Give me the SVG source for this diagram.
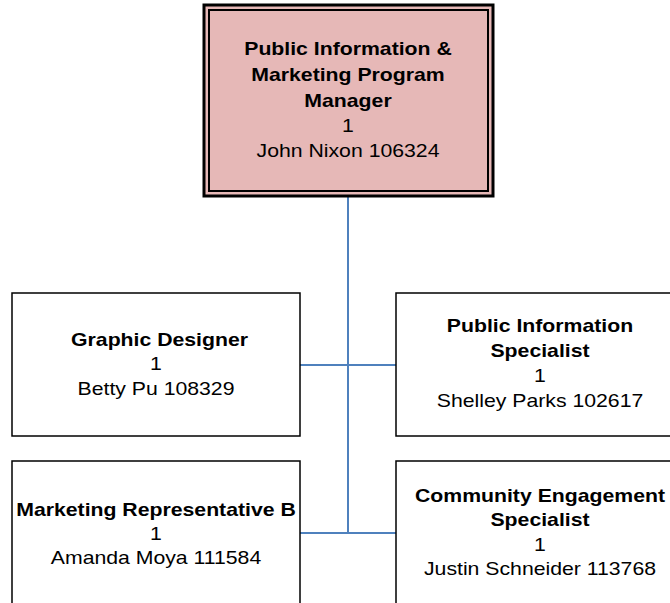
<svg xmlns="http://www.w3.org/2000/svg" width="670" height="603" viewBox="0 0 670 603">
<style>
text{font-family:"Liberation Sans",Arial,sans-serif;font-size:18px;fill:#000;text-anchor:middle}
.b{font-weight:bold}
.box{fill:#fff;stroke:#000;stroke-width:1.5}
.conn{stroke:#4f81bd;stroke-width:2;fill:none}
</style>
<rect width="670" height="603" fill="#fff"/>
<g id="connectors">
<line class="conn" x1="348" y1="196" x2="348" y2="533"/>
<line class="conn" x1="300" y1="365" x2="396" y2="365"/>
<line class="conn" x1="300" y1="533" x2="396" y2="533"/>
</g>
<g id="manager">
<rect x="204" y="5" width="289" height="191" fill="#e6b8b7" stroke="#000" stroke-width="3"/>
<rect x="209" y="10" width="279" height="181" fill="none" stroke="#000" stroke-width="2"/>
<g transform="translate(348,0) scale(1.18,1)">
<text class="b" x="0" y="55">Public Information &amp;</text>
<text class="b" x="0" y="81">Marketing Program</text>
<text class="b" x="0" y="107">Manager</text>
<text x="0" y="132">1</text>
<text x="0" y="157">John Nixon 106324</text>
</g>
</g>
<g id="graphic-designer">
<rect class="box" x="12" y="293" width="288" height="143"/>
<g transform="translate(156,0) scale(1.18,1)">
<text class="b" x="3" y="346">Graphic Designer</text>
<text x="0" y="370">1</text>
<text x="0" y="395">Betty Pu 108329</text>
</g>
</g>
<g id="public-info-specialist">
<rect class="box" x="396" y="293" width="288" height="143"/>
<g transform="translate(540,0) scale(1.18,1)">
<text class="b" x="0" y="332">Public Information</text>
<text class="b" x="0" y="357">Specialist</text>
<text x="0" y="382">1</text>
<text x="0" y="407">Shelley Parks 102617</text>
</g>
</g>
<g id="marketing-rep">
<rect class="box" x="12" y="461" width="288" height="160"/>
<g transform="translate(156,0) scale(1.18,1)">
<text class="b" x="0" y="516">Marketing Representative B</text>
<text x="0" y="540">1</text>
<text x="0" y="564">Amanda Moya 111584</text>
</g>
</g>
<g id="community-engagement">
<rect class="box" x="396" y="461" width="288" height="160"/>
<g transform="translate(540,0) scale(1.18,1)">
<text class="b" x="0" y="502">Community Engagement</text>
<text class="b" x="0" y="526">Specialist</text>
<text x="0" y="551">1</text>
<text x="0" y="575">Justin Schneider 113768</text>
</g>
</g>
</svg>
